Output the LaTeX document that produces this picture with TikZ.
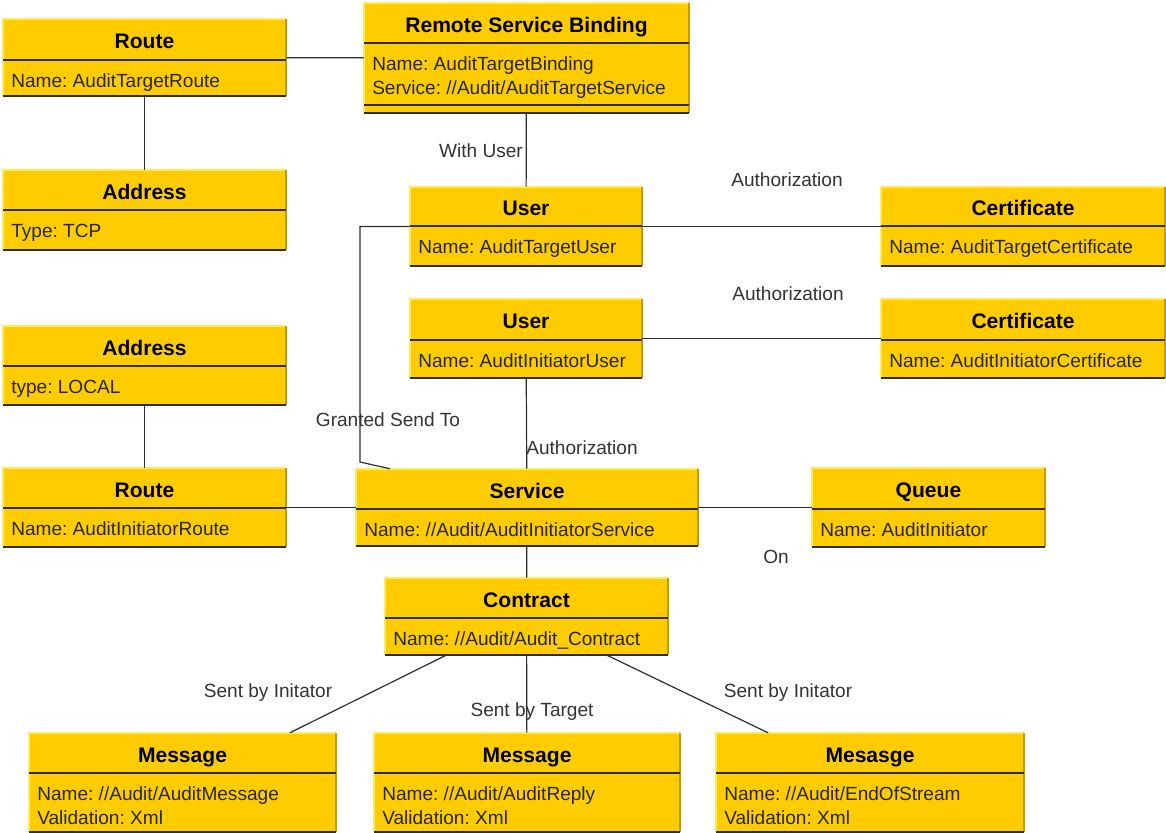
\documentclass[tikz,border=0pt]{standalone}
\usepackage{fontspec}
\setmainfont{Liberation Sans}
\frenchspacing
\definecolor{classgold}{RGB}{255, 204, 0}
\definecolor{classlight}{RGB}{255, 236, 90}
\definecolor{classdark}{RGB}{196, 156, 0}
\definecolor{linegray}{RGB}{45, 45, 45}

% class box: name, left, top, right, bottom, separator, title, attributes
\newcommand{\umlclass}[8]{%
  \node[classbox, minimum width={(#4-#2)*0.75pt}, minimum height={(#5-#3)*0.75pt}] (#1) at ({(#2+#4)/2},{(#3+#5)/2}) {};
  \draw[classlight, line width=1pt] (#2,#5) -- (#2,#3) -- (#4,#3);
  \draw[classdark, line width=1pt] (#4,#3) -- (#4,#5);
  \draw[linegray, line width=1pt] (#2,#5) -- (#4,#5);
  \draw[linegray, line width=1pt] (#2,#6) -- (#4,#6);
  \node[classtitle] (#1-title) at ({(#2+#4)/2},{(#3+#6)/2+9}) {#7};
  \node[classattr] (#1-attr) at ({#2+8},{#6+27}) {\begin{tabular}[t]{@{}l@{}}#8\end{tabular}};
}

\begin{document}
\begin{tikzpicture}[x=0.75pt, y=-0.75pt,
    classbox/.style={rectangle, fill=classgold, inner sep=0pt},
    classtitle/.style={anchor=base, font=\fontsize{15.8}{18}\selectfont\bfseries, inner sep=0pt},
    classattr/.style={anchor=base west, inner sep=0pt, text=black!85,
      font=\fontsize{14.3}{18}\selectfont},
    link/.style={draw=linegray, line width=0.9pt},
    lbl/.style={anchor=base, inner sep=0pt, text=black!80, font=\fontsize{14.3}{18}\selectfont}]
  \useasboundingbox (0,0) rectangle (1166,832);
  % Left column: routes and addresses
  \umlclass{routeT}{3}{19}{286}{96}{60}{Route}{Name: AuditTargetRoute}
  \umlclass{addrT}{3}{170}{286}{250}{210}{Address}{Type: TCP}
  \umlclass{addrI}{3}{326}{286}{405}{366}{Address}{type: LOCAL}
  \umlclass{routeI}{3}{468}{286}{547}{508}{Route}{Name: AuditInitiatorRoute}
  % Binding and users
  \umlclass{binding}{364}{3}{689}{113}{43}{Remote Service Binding}{Name: AuditTargetBinding\\Service: //Audit/AuditTargetService}
  \draw[linegray, line width=1pt] (364,105) -- (689,105);
  \umlclass{userT}{410}{187}{642}{266}{226}{User}{Name: AuditTargetUser}
  \umlclass{userI}{410}{299}{642}{378}{340}{User}{Name: AuditInitiatorUser}
  \umlclass{certT}{881}{187}{1165}{266}{226}{Certificate}{Name: AuditTargetCertificate}
  \umlclass{certI}{881}{299}{1165}{378}{340}{Certificate}{Name: AuditInitiatorCertificate}
  % Service, queue, contract
  \umlclass{service}{356}{469}{698}{546}{509}{Service}{Name: //Audit/AuditInitiatorService}
  \umlclass{queue}{812}{468}{1045}{547}{509}{Queue}{Name: AuditInitiator}
  \umlclass{contract}{385}{578}{668}{655}{618}{Contract}{Name: //Audit/Audit\_Contract}
  % Messages
  \umlclass{msgA}{29}{733}{336}{832}{773}{Message}{Name: //Audit/AuditMessage\\Validation: Xml}
  \umlclass{msgB}{374}{733}{680}{832}{773}{Message}{Name: //Audit/AuditReply\\Validation: Xml}
  \umlclass{msgC}{716}{733}{1024}{832}{773}{Mesasge}{Name: //Audit/EndOfStream\\Validation: Xml}

  % Connectors
  \draw[link] (routeT) -- (binding);
  \draw[link] (routeT) -- (addrT);
  \draw[link] (binding) -- (userT);
  \draw[link] (userT) -- (certT);
  \draw[link] (userI) -- (certI);
  \draw[link] (userI) -- (service);
  \coordinate (grantbend) at (360,462);
  \draw[link] (userT.west) -| (grantbend) -- ([xshift=-102.75pt]service.north);
  \draw[link] (addrI) -- (routeI);
  \draw[link] (routeI) -- (service);
  \draw[link] (service) -- (queue);
  \draw[link] (service) -- (contract);
  \draw[link] ([xshift=-60.4pt]contract.south) -- ([xshift=80.6pt]msgA.north);
  \draw[link] (contract) -- (msgB);
  \draw[link] ([xshift=60.4pt]contract.south) -- ([xshift=-76.5pt]msgC.north);

  % Connector labels
  \node[lbl] (lwith) at (481,157) {With User};
  \node[lbl] (lauthT) at (787,186) {Authorization};
  \node[lbl] (lauthI) at (788,300) {Authorization};
  \node[lbl] (lauthS) at (582,454) {Authorization};
  \node[lbl] (lgrant) at (388,426) {Granted Send To};
  \node[lbl] (lon) at (776,563) {On};
  \node[lbl] (lsentA) at (268,697) {Sent by Initator};
  \node[lbl] (lsentB) at (532,716) {Sent by Target};
  \node[lbl] (lsentC) at (788,697) {Sent by Initator};
\end{tikzpicture}
\end{document}
